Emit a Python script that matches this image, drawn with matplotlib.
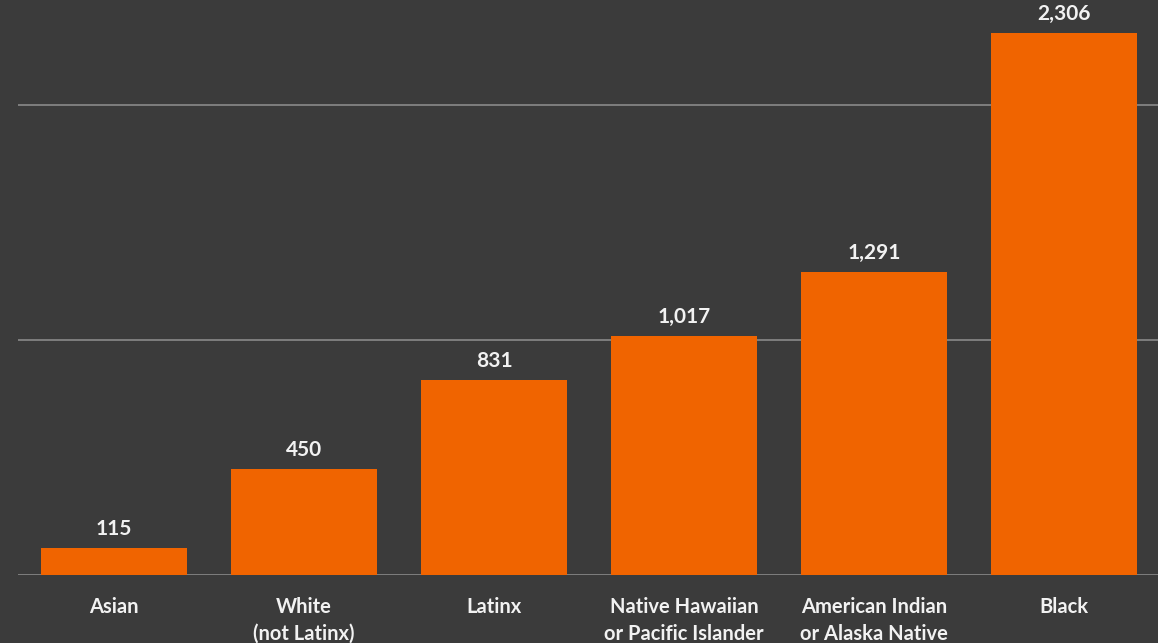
import matplotlib
matplotlib.use("Agg")
import matplotlib.pyplot as plt

categories = ["Asian", "White\n(not Latinx)", "Latinx", "Native Hawaiian\nor Pacific Islander",
              "American Indian\nor Alaska Native", "Black"]
values = [115, 450, 831, 1017, 1291, 2306]
value_labels = ["115", "450", "831", "1,017", "1,291", "2,306"]

bg = "#3b3b3b"
bar_color = "#f06400"
text_color = "#f2f2f2"

plt.rcParams['font.family'] = ['Lato', 'DejaVu Sans']

fig = plt.figure(figsize=(11.58, 6.43), dpi=100, facecolor=bg)
ax = fig.add_axes([18/1158, 68/643, 1140/1158, 575/643], facecolor=bg)

x = list(range(len(categories)))
bars = ax.bar(x, values, width=0.768, color=bar_color, zorder=3)

ax.set_xlim(-0.505, 5.495)
ax.set_ylim(0, 2447)
ax.set_yticks([0, 1000, 2000])
ax.yaxis.grid(True, color="#8a8a8a", linewidth=1.2, zorder=0)
ax.tick_params(axis='y', left=False, labelleft=False)
ax.tick_params(axis='x', bottom=False, pad=12, labelsize=14.5, labelcolor=text_color)
ax.set_xticks(x)
ax.set_xticklabels(categories, linespacing=1.45, fontweight='bold')
for lab in ax.get_xticklabels():
    lab.set_verticalalignment('top')
for s in ax.spines.values():
    s.set_visible(False)

for xi, v, lbl in zip(x, values, value_labels):
    ax.annotate(lbl, (xi, v), xytext=(0, 6.5), textcoords='offset points',
                ha='center', va='bottom', color=text_color, fontsize=15, fontweight='bold')

fig.savefig("out.png", dpi=100, facecolor=bg)
